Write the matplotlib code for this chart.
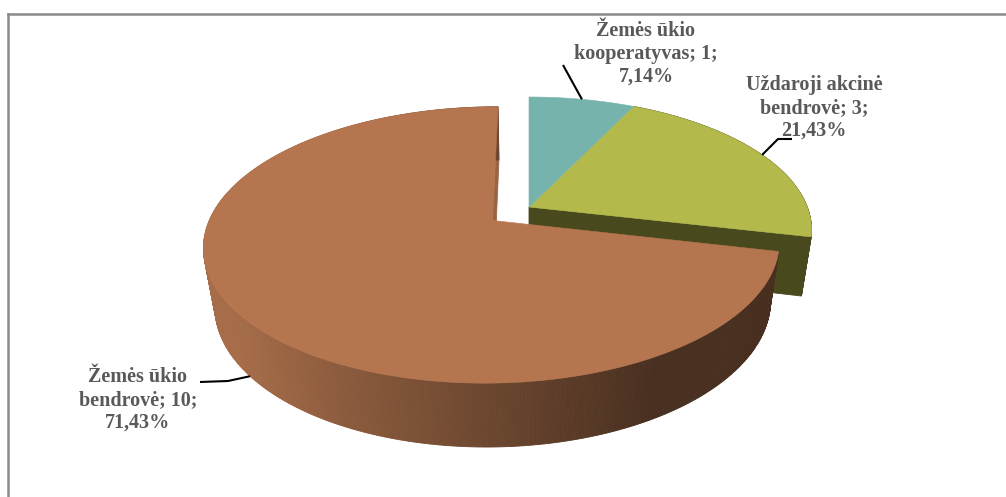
import numpy as np
import matplotlib.pyplot as plt
from matplotlib.patches import Polygon
from matplotlib.lines import Line2D

# ---- data ----
names = ["Žemės ūkio\nkooperatyvas", "Uždaroji akcinė\nbendrovė", "Žemės ūkio\nbendrovė"]
counts = [1, 3, 10]
explode = [0.0, 0.0, 0.1645]
top_colors = ["#76B3AD", "#B3BA4B", "#B5764F"]

# label layout (pixel centre of text block, leader elbow points)
label_pos = [(646, 54), (814, 108), (138, 400)]
leader_pts = [[(563, 65)], [(792, 139), (778, 139)], [(200, 382), (228, 381)]]
leader_on_bottom = [False, False, True]

# ---- 3D pie projection (perspective) ----
X0, Y0 = 529, 207
A, B, G = 742.5, 5.75, 1600.0
TILT = 0.655
H = 0.304


def proj(x, y, z):
    den = B + y - z * TILT
    return X0 + G * x / den, Y0 - A * (y + z / TILT) / den


def hex2rgb(c):
    return np.array([int(c[i:i + 2], 16) for i in (1, 3, 5)]) / 255.0


def shade(theta):
    return float(np.clip(0.6 - 0.4 * np.cos(theta), 0.4, 0.92))


fig = plt.figure(figsize=(10.06, 4.97), dpi=100)
ax = fig.add_axes([0, 0, 1, 1])
ax.set_xlim(0, 1006)
ax.set_ylim(497, 0)
ax.axis("off")

total = float(sum(counts))
fracs = np.array(counts) / total
cum = np.concatenate([[0], np.cumsum(fracs)])
slices = []
for i in range(len(counts)):
    a0 = np.radians(90 - cum[i] * 360)
    a1 = np.radians(90 - cum[i + 1] * 360)
    mid = (a0 + a1) / 2
    ox, oy = explode[i] * np.cos(mid), explode[i] * np.sin(mid)
    slices.append((a0, a1, mid, ox, oy))


def draw_side(i):
    a0, a1, mid, ox, oy = slices[i]
    base = hex2rgb(top_colors[i])
    th = np.linspace(a0, a1, int(abs(a1 - a0) / np.radians(0.5)) + 2)
    segs = []
    for t1, t2 in zip(th[:-1], th[1:]):
        tm = (t1 + t2) / 2
        pts = [proj(ox + np.cos(t1), oy + np.sin(t1), 0),
               proj(ox + np.cos(t2), oy + np.sin(t2), 0),
               proj(ox + np.cos(t2), oy + np.sin(t2), -H),
               proj(ox + np.cos(t1), oy + np.sin(t1), -H)]
        segs.append((np.sin(tm), pts, base * shade(tm)))
    segs.sort(key=lambda s: -s[0])
    for _, pts, col in segs:
        ax.add_patch(Polygon(pts, closed=True, facecolor=col, edgecolor=col, lw=0.6))


def draw_radial(i, ang, factor):
    a0, a1, mid, ox, oy = slices[i]
    col = hex2rgb(top_colors[i]) * factor
    pts = [proj(ox, oy, 0), proj(ox + np.cos(ang), oy + np.sin(ang), 0),
           proj(ox + np.cos(ang), oy + np.sin(ang), -H), proj(ox, oy, -H)]
    ax.add_patch(Polygon(pts, closed=True, facecolor=col, edgecolor=col, lw=0.6))


def draw_top(i):
    a0, a1, mid, ox, oy = slices[i]
    th = np.linspace(a0, a1, 200)
    pts = [proj(ox, oy, 0)] + [proj(ox + np.cos(t), oy + np.sin(t), 0) for t in th]
    col = top_colors[i]
    ax.add_patch(Polygon(pts, closed=True, facecolor=col, edgecolor=col, lw=0.4))


# green (back right)
draw_radial(1, slices[1][1], 0.4)
draw_side(1)
draw_top(1)
# teal
draw_top(0)
# brown (exploded, front)
draw_radial(2, slices[2][1], 0.85)
draw_side(2)
draw_top(2)

# ---- labels ----
for i in range(len(counts)):
    pct = f"{fracs[i] * 100:.2f}%".replace(".", ",")
    txt = f"{names[i]}; {counts[i]};\n{pct}"
    ax.text(label_pos[i][0], label_pos[i][1], txt, ha="center", va="center",
            fontsize=14.5, fontweight="bold", color="#595959",
            family=["Liberation Serif", "DejaVu Serif"], linespacing=1.2)
    a0, a1, mid, ox, oy = slices[i]
    z = -H if leader_on_bottom[i] else 0
    anchor = proj(ox + np.cos(mid), oy + np.sin(mid), z)
    pts = leader_pts[i] + [anchor]
    ax.plot([p[0] for p in pts], [p[1] for p in pts], color="black", lw=1.5,
            solid_capstyle="butt")

# chart frame (only top and left edges visible)
fig.add_artist(Line2D([8 / 1006, 1], [1 - 14 / 497, 1 - 14 / 497], color="#8A8A8A", lw=1.8))
fig.add_artist(Line2D([8 / 1006, 8 / 1006], [0, 1 - 14 / 497], color="#8A8A8A", lw=1.8))

fig.savefig("out.png", dpi=100)
